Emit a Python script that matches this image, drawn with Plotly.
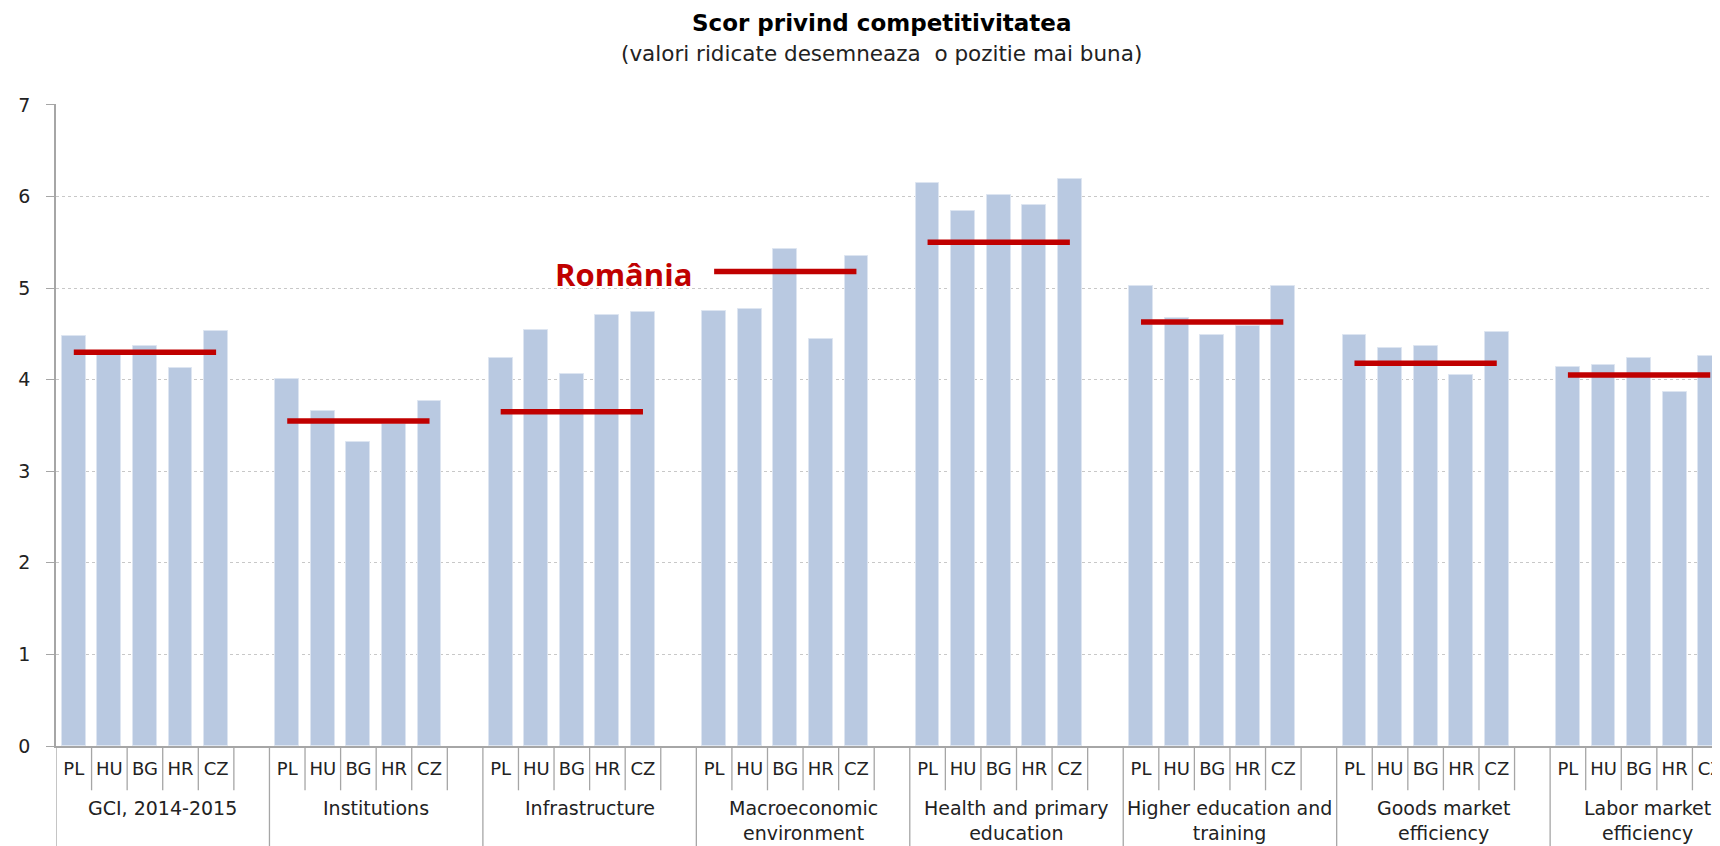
import plotly.graph_objects as go

# categories
groups = [
    "GCI, 2014-2015", "Institutions", "Infrastructure",
    "Macroeconomic<br>environment", "Health and primary<br>education",
    "Higher education and<br>training", "Goods market<br>efficiency",
    "Labor market<br>efficiency",
]
countries = ["PL", "HU", "BG", "HR", "CZ"]

# scores per country, one value per group
pl = [4.48, 4.01, 4.24, 4.75, 6.15, 5.02, 4.49, 4.14]
hu = [4.28, 3.66, 4.54, 4.77, 5.84, 4.67, 4.35, 4.16]
bg = [4.37, 3.32, 4.06, 5.43, 6.02, 4.49, 4.37, 4.24]
hr = [4.13, 3.52, 4.71, 4.44, 5.91, 4.59, 4.05, 3.86]
cz = [4.53, 3.77, 4.74, 5.35, 6.19, 5.02, 4.52, 4.26]
romania = [4.30, 3.55, 3.65, 5.18, 5.50, 4.63, 4.18, 4.05]

y_ticks = [0, 1, 2, 3, 4, 5, 6, 7]

FONT = "DejaVu Sans"
BAR = "#B9C9E1"
RED = "#C00000"
GREY = "#A6A6A6"
SLOTS = 6  # 5 countries + one empty slot per group
X_MAX = 47.0  # chart ends at the right edge of the picture

series = [pl, hu, bg, hr, cz]
bar_x, bar_y, tick_x, tick_t = [], [], [], []
for g in range(len(groups)):
    for i, c in enumerate(countries):
        bar_x.append(g * SLOTS + i + 0.5)
        bar_y.append(series[i][g])
        tick_x.append(g * SLOTS + i + 0.5)
        tick_t.append(c)

ro_x, ro_y = [], []
for g, v in enumerate(romania):
    ro_x += [g * SLOTS + 0.5, g * SLOTS + 4.5, None]
    ro_y += [v, v, None]

fig = go.Figure()
fig.add_trace(go.Bar(
    x=bar_x, y=bar_y, width=0.67,
    marker=dict(color=BAR, line=dict(color="#DDE5F1", width=1)),
    hoverinfo="skip", showlegend=False,
))
fig.add_trace(go.Scatter(
    x=ro_x, y=ro_y, mode="lines",
    line=dict(color=RED, width=5.5),
    hoverinfo="skip", showlegend=False,
))

# divider lines below the axis
shapes = []
n_slots = len(groups) * SLOTS
for k in range(n_slots + 1):
    long = (k % SLOTS == 0)
    shapes.append(dict(
        type="line", xref="x", yref="paper",
        x0=k, x1=k, y0=0, y1=-0.2 if long else -0.069,
        line=dict(color=GREY, width=1.3),
    ))

annotations = [
    dict(text="<b>Scor privind competitivitatea</b>", xref="paper", yref="paper",
         x=0.494, y=1, yanchor="middle", yshift=81, showarrow=False,
         font=dict(family=FONT, size=23, color="#000000")),
    dict(text="(valori ridicate desemneaza  o pozitie mai buna)", xref="paper", yref="paper",
         x=0.494, y=1, yanchor="middle", yshift=51, showarrow=False,
         font=dict(family=FONT, size=21.5, color="#222222")),
    dict(text="<b>România</b>", xref="x", yref="y", x=15.95, y=5.15,
         xanchor="center", yanchor="middle", showarrow=False,
         font=dict(family="Open Sans", size=31, color=RED)),
]
for g, name in enumerate(groups):
    # last group is cut by the edge: keep its label inside the picture
    xc = min(g * SLOTS + 3, X_MAX - 2.25)
    annotations.append(dict(
        text=name, xref="x", yref="paper", x=xc, y=0,
        xanchor="center", yanchor="top", yshift=-49, showarrow=False,
        font=dict(family=FONT, size=19, color="#222222"),
    ))

fig.update_layout(
    width=1720, height=846,
    margin=dict(l=48, r=0, t=96, b=108),
    paper_bgcolor="white", plot_bgcolor="white",
    shapes=shapes, annotations=annotations,
    bargap=0,
    xaxis=dict(
        range=[0, X_MAX], tickvals=tick_x, ticktext=tick_t,
        ticks="", showgrid=False, zeroline=False,
        showline=True, linecolor=GREY, linewidth=1.5,
        tickfont=dict(family=FONT, size=18, color="#222222"),
        ticklabelstandoff=6, ticklabeloverflow="allow",
    ),
    yaxis=dict(
        range=[0, 7.01], tickvals=y_ticks,
        ticks="outside", ticklen=8, tickcolor=GREY, tickwidth=1.3,
        showline=True, linecolor=GREY, linewidth=1.5,
        showgrid=True, gridcolor="#C8C8C8", griddash="dot", gridwidth=1,
        zeroline=False,
        tickfont=dict(family=FONT, size=19, color="#222222"),
        ticklabelstandoff=12,
    ),
)

fig.write_html("out.html")
